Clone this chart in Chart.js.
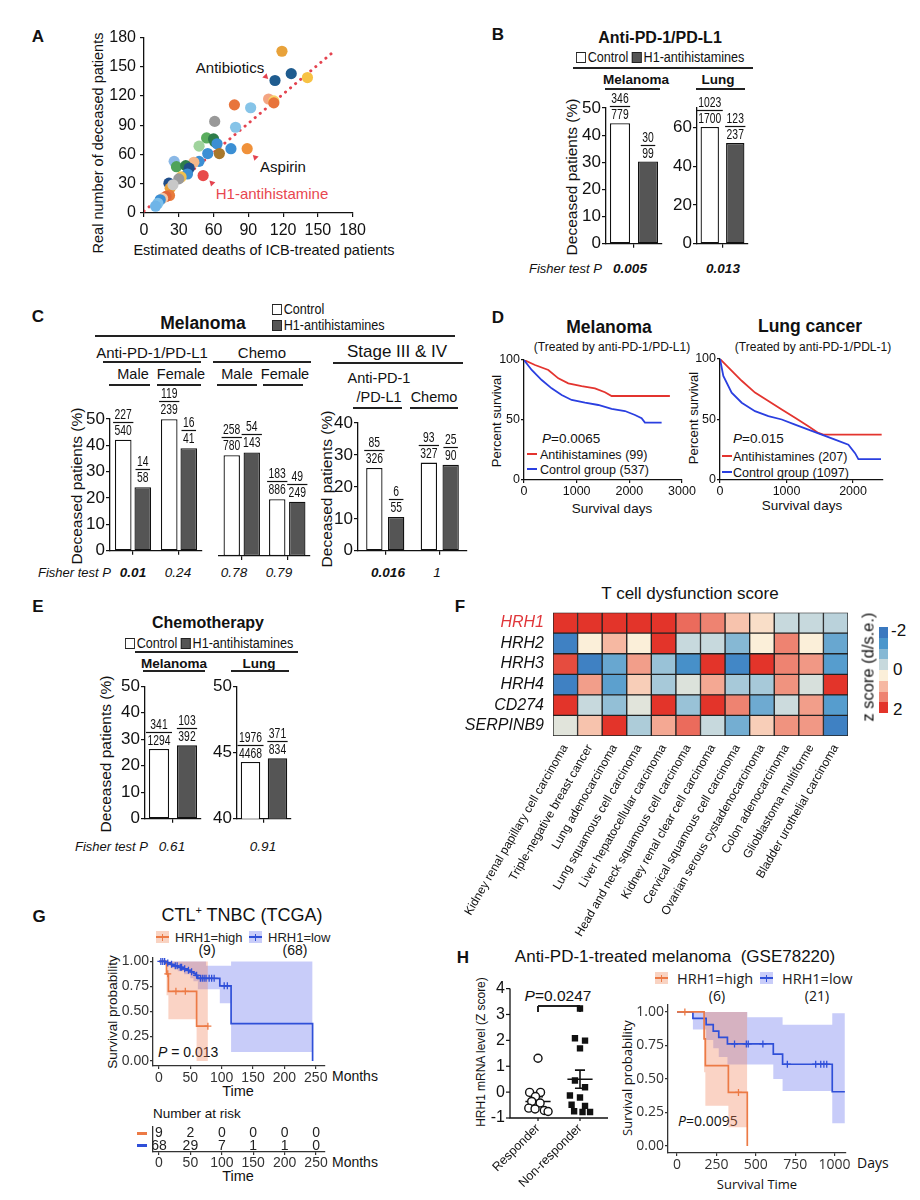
<!DOCTYPE html>
<html><head><meta charset="utf-8">
<script src="https://cdn.jsdelivr.net/npm/chart.js@4.4.1/dist/chart.umd.min.js"></script>
<style>
html,body{margin:0;padding:0;background:#fff}
#fig{position:relative;width:920px;height:1200px;overflow:hidden;font-family:"Liberation Sans",Arial,sans-serif;color:#111}
.t{position:absolute;white-space:nowrap;line-height:1}
.sq{display:inline-block;width:11px;height:11px;border:1.3px solid #222;vertical-align:-1px;margin-right:2px;box-sizing:border-box;background:#fff}
.sq.f{background:#555}
canvas{position:absolute}
</style></head><body><div id="fig"></div>
<script>
// ================= DATA =================
// A: scatter (estimated vs real deaths)
const aX=[119,127,113,141,107.5,112,112,78,92,61,79,54,60,61,63,47.5,75,89,65,55,47.5,43,26,28,36,39,37.5,51,32,30,21.5,22.6,25,22,19,16,14,12,10];
const aY=[166,143,136,139,117,115,113,111,108,94,88,77,76,73,71,68.6,66,66,61,61,53,52,53,47.5,48.6,46,40,38.4,37,35,30.6,25.5,29,18,17,15,13.6,10,7];
const aCol=['#e8a23a','#1f5c8f','#1f5c8f','#f7c244','#f4a582','#f9d36a','#e8743b','#e8743b','#86c4e8','#999999','#86c4e8','#5aad5e','#2e7d4a','#2e7d4a','#3b8fd4','#9fd39c','#3b8fd4','#f0913a','#a8782c','#3b8fd4','#3b8fd4','#f5b78a','#8ab8e6','#4fa35a','#2e7d4a','#1f4e8a','#3b8fd4','#e84a4a','#f2c14e','#9a9a9a','#1f4e8a','#e8a23a','#c8c8c8','#e87a3a','#e0663a','#f5c6a5','#3b8fd4','#7fc0ea','#6fb5e8'];
const aLineX=[0,163], aLineY=[2,165];
const aArrowX=[105,96,58.6], aArrowY=[140,57,30.7], aArrowRot=[135,-45,-45];
// B
const bMelCtrl=[44.4], bMelH1=[30.3], bMelNumC=[346], bMelDenC=[779], bMelNumH=[30], bMelDenH=[99];
const bLungCtrl=[60.2], bLungH1=[51.9], bLungNumC=[1023], bLungDenC=[1700], bLungNumH=[123], bLungDenH=[237];
// C
const cSex=['Male','Female'];
const cPdCtrl=[42.1,49.9], cPdH1=[24.1,38.9], cPdNumC=[227,119], cPdDenC=[540,239], cPdNumH=[14,16], cPdDenH=[58,41];
const cChCtrl=[36.8,20.7], cChH1=[37.8,19.8], cChNumC=[258,183], cChDenC=[780,886], cChNumH=[54,49], cChDenH=[143,249];
const cStCats=['Anti-PD-1/PD-L1','Chemo'];
const cStCtrl=[25.9,27.6], cStH1=[10.6,26.9], cStNumC=[85,93], cStDenC=[326,327], cStNumH=[6,25], cStDenH=[55,90];
// D
const dMelRedT=[0,209,462,652,841,1094,1347,1537,1664,2770], dMelRedS=[100,95.8,91.7,84.7,80.6,78.3,76.4,73.1,70,70];
const dMelBlueT=[0,146,336,525,715,905,1158,1411,1664,1917,2107,2233,2296,2613], dMelBlueS=[100,91.7,83.3,76.4,70.8,66.7,64.4,62.5,59.2,57.5,54.2,51.4,47.8,47.8];
const dLungRedT=[0,125,326,526,727,928,1128,1328,1478,1553,2430], dLungRedS=[100,93,82,72.2,65.3,58.3,51.4,44.4,38.9,37.5,37.5];
const dLungBlueT=[0,50,175,326,526,727,928,1128,1328,1529,1729,1930,2030,2080,2420], dLungBlueS=[100,86,72.2,63.9,56.9,52.8,50,45.8,41.7,37.5,33.3,29.2,22.2,17.2,17.2];
// E
const eMelCtrl=[26.3], eMelH1=[27.7], eMelNumC=[341], eMelDenC=[1294], eMelNumH=[103], eMelDenH=[392];
const eLungCtrl=[44.28], eLungH1=[44.56], eLungNumC=[1976], eLungDenC=[4468], eLungNumH=[371], eLungDenH=[834];
// F heatmap
const fRows=['HRH1','HRH2','HRH3','HRH4','CD274','SERPINB9'];
const fCols=['Kidney renal papillary cell carcinoma','Triple-negative breast cancer','Lung adenocarcinoma','Lung squamous cell carcinoma','Liver hepatocellular carcinoma','Head and neck squamous cell carcinoma','Kidney renal clear cell carcinoma','Cervical squamous cell carcinoma','Ovarian serous cystadenocarcinoma','Colon adenocarcinoma','Glioblastoma multiforme','Bladder urothelial carcinoma'];
const zHRH1=[2,2,2,2,2,1.6,1.43,0.74,0.46,-0.29,-0.29,-0.4];
const zHRH2=[-1.83,0.29,0.86,0.29,2,-0.29,-0.29,-0.86,0.29,1.43,0.29,-1.14];
const zHRH3=[1.83,-1.83,-1.14,1.14,-0.69,-1.54,2,-1.71,2,1.43,1.2,-1.31];
const zHRH4=[-1.83,1.14,-1.26,0.63,-0.57,-0.06,1.03,-0.57,-0.57,1.26,-0.11,2];
const zCD274=[2,-0.29,-0.74,0,2,-0.69,2,1.43,-1.09,-0.23,1.14,-1.31];
const zSERPINB9=[0,0.74,2,-0.51,1.03,1.6,-0.29,-1.03,0.63,1.26,1.2,-1.83];
// G
const gHighT=[0,12,15,60,78], gHighS=[1,0.875,0.70,0.35,0.35];
const gHighCensT=[14,27,42,78], gHighCensS=[0.875,0.70,0.70,0.35];
const gHighBandT=[0,12,15,60,78], gHighHi=[1,1,1,1,1], gHighLo=[1,0.66,0.42,0,0];
const gLowT=[0,10,18,22,30,38,45,50,55,58,62,97,115,245], gLowS=[1,0.985,0.97,0.955,0.94,0.925,0.91,0.895,0.88,0.86,0.83,0.755,0.375,0];
const gLowCensT=[3,6,9,14,20,26,29,34,36,41,47,52,60,66,69,72,75,80,84,88,104,109];
const gLowCensS=[1,1,1,0.985,0.97,0.955,0.955,0.94,0.94,0.925,0.91,0.895,0.86,0.83,0.83,0.83,0.83,0.83,0.83,0.83,0.755,0.755];
const gLowBandT=[0,10,20,30,40,50,55,62,75,97,115,245], gLowHi=[1,1,1,1,1,1,1,1,0.957,0.957,1,1], gLowLo=[1,0.96,0.93,0.90,0.87,0.83,0.80,0.72,0.72,0.58,0.09,0.09];
const gRiskT=[0,50,100,150,200,250], gRiskHigh=[9,2,0,0,0,0], gRiskLow=[68,29,7,1,1,0];
// H
const hGroups=['Responder','Non-responder'];
const hYTicks=[-1,0,1,2,3,4];
const hRespY=[1.31,-0.01,-0.01,-0.17,-0.36,-0.42,-0.62,-0.65,-0.71,-0.75], hRespJit=[0,-0.2,0.06,-0.06,-0.15,0.05,-0.22,-0.07,0.15,0.24];
const hNonY=[3.23,2.08,1.99,1.69,0.45,0.19,-0.13,-0.21,-0.49,-0.53,-0.74,-0.77,-0.77], hNonJit=[0,-0.12,0.12,0,-0.12,0.12,-0.24,0,-0.2,0.12,-0.14,0.06,0.24];
const hMean=[-0.36,0.50], hSem=[0.18,0.35];
const hHighT=[0,172,180,326,446], hHighS=[1,0.8,0.6,0.4,0];
const hHighCensT=[50,390], hHighCensS=[1,0.4];
const hHighBandT=[0,172,180,326,446], hHighHi=[1,1,1,1,1], hHighLo=[1,0.55,0.30,0.14,0.14];
const hLowT=[0,101,185,230,265,320,611,670,985,1065], hLowS=[1,0.952,0.905,0.857,0.81,0.762,0.685,0.61,0.405,0.405];
const hLowCensT=[365,440,452,545,700,880,912,932,950], hLowCensS=[0.762,0.762,0.762,0.762,0.61,0.61,0.61,0.61,0.61];
const hLowBandT=[0,101,185,230,265,320,446,611,670,985,1065], hLowHi=[1,1,1,1,1,1,0.96,0.96,0.905,0.99,0.99], hLowLo=[1,0.87,0.79,0.73,0.665,0.608,0.608,0.5,0.41,0.17,0.17];

// ================= HELPERS =================
const F='"Liberation Sans", Arial, sans-serif';
Chart.defaults.font.family=F; Chart.defaults.color='#111';
const fig=document.getElementById('fig');
function T(x,y,html,css,anchor,rot,sx){
  const d=document.createElement('div');d.className='t';d.innerHTML=html;
  d.style.cssText+=`left:${x}px;top:${y}px;`+(css||'');
  const a=anchor||'c', ax={c:'-50%',l:'0',r:'-100%'}[a];
  d.style.transformOrigin={c:'center',l:'0% 50%',r:'100% 50%'}[a];
  d.style.transform=`translate(${ax},-50%)`+(rot?` rotate(${rot}deg)`:'')+(sx?` scaleX(${sx})`:'');
  fig.appendChild(d);return d;
}
function box(x,y,w,h,bg){const d=document.createElement('div');d.style.cssText=`position:absolute;left:${x}px;top:${y}px;width:${w}px;height:${h}px;background:${bg}`;fig.appendChild(d);return d;}
function HL(x1,x2,y,w){w=w||1.5;box(x1,y-w/2,x2-x1,w,'#222');}
function VL(x,y1,y2,w){w=w||1.5;box(x-w/2,y1,w,y2-y1,'#222');}
function sw(x,y,bg,lc){const d=box(x,y-6,13,12,bg);d.innerHTML=`<div style="position:absolute;left:0;top:5.25px;width:13px;height:1.5px;background:${lc}"></div><div style="position:absolute;left:5.75px;top:2.5px;width:1.5px;height:7px;background:${lc}"></div>`;}
function merge(a,b){for(const k in b){const v=b[k];if(v&&typeof v==='object'&&!Array.isArray(v)){a[k]=merge(a[k]&&typeof a[k]==='object'?a[k]:{},v);}else a[k]=v;}return a;}
function ax(o){return merge({display:true,ticks:{display:true,padding:2,color:'#111',font:{size:16}},grid:{display:true,drawOnChartArea:false,drawTicks:true,tickLength:4,color:'#111',lineWidth:1.2},border:{display:true,color:'#111',width:1.3}},o);}
function mk(bx,area,cfg,z){
  const [x,y,w,h]=bx,[L,Tp,R,B]=area;
  const c=document.createElement('canvas');c.width=w;c.height=h;
  c.style.cssText=`left:${x}px;top:${y}px;width:${w}px;height:${h}px;`+(z?`z-index:${z};`:'');
  fig.appendChild(c);
  const o=cfg.options=cfg.options||{};
  o.responsive=false;o.animation=false;o.devicePixelRatio=1;
  o.layout={padding:{top:Tp-y,right:x+w-R,left:0,bottom:0}};
  o.plugins=Object.assign({legend:{display:false},tooltip:{enabled:false},title:{display:false}},o.plugins||{});
  const sx=o.scales.x,sy=o.scales.y;
  if(sy.display===false)o.layout.padding.left=L-x;else sy.afterFit=s=>{s.width=L-x;};
  if(sx.display===false)o.layout.padding.bottom=y+h-B;else sx.afterFit=s=>{s.height=y+h-B;};
  return new Chart(c,cfg);
}
function fracPlugin(nums,dens,gap){return{id:'frac',afterDatasetsDraw(chart){
  const ctx=chart.ctx;ctx.save();ctx.font='14px '+F;ctx.fillStyle='#111';ctx.strokeStyle='#111';ctx.lineWidth=1.2;ctx.textAlign='center';ctx.textBaseline='middle';
  nums.forEach((arr,di)=>chart.getDatasetMeta(di).data.forEach((b,i)=>{
    const n=String(arr[i]),d=String(dens[di][i]);const ly=Math.round(b.y-gap)+0.5;
    const half=Math.max(ctx.measureText(n).width,ctx.measureText(d).width)*0.74/2+1.5;
    ctx.beginPath();ctx.moveTo(b.x-half,ly);ctx.lineTo(b.x+half,ly);ctx.stroke();
    [[n,ly-7.5],[d,ly+8.5]].forEach(([s,yy])=>{ctx.save();ctx.translate(b.x,yy);ctx.scale(0.74,1);ctx.fillText(s,0,0);ctx.restore();});
  }));ctx.restore();}};}
function bars(bx,area,cats,ctrl,h1,numC,denC,numH,denH,ymin,ymax,step,o){
  o=o||{};
  const ds=(d,bg)=>({data:d,backgroundColor:bg,borderColor:'#111',borderWidth:1.3,borderSkipped:false,barPercentage:o.bp||0.72,categoryPercentage:o.cp||1});
  return mk(bx,area,{type:'bar',data:{labels:cats,datasets:[ds(ctrl,'#fff'),ds(h1,'#555')]},
    plugins:[fracPlugin([numC,numH],[denC,denH],o.gap||17)],
    options:{scales:{x:ax({type:'category',offset:true,grid:{offset:false},ticks:{display:false}}),
      y:ax({type:'linear',display:o.noY?false:true,min:ymin,max:ymax,ticks:{stepSize:step,font:{size:17},padding:1}})}}});
}
const pts=(xs,ys)=>xs.map((x,i)=>({x,y:ys[i]}));
const fixT=arr=>s=>{s.ticks=arr.map(v=>({value:v}));};

// ================= A =================
T(38,37,'A','font:bold 17px '+F);
T(98,143,'Real number of deceased patients','font:14.5px '+F,'c',-90);
T(264,250,'Estimated deaths of ICB-treated patients','font:14.5px '+F);
T(230,67,'Antibiotics','font:15px '+F);
T(283,166,'Aspirin','font:15px '+F);
T(272,193,'H1-antihistamine','font:15px '+F+';color:#e8474f');
mk([58,24,312,244],[144,37,356,213],{type:'scatter',data:{datasets:[
  {type:'line',showLine:true,data:pts(aLineX,aLineY),borderColor:'#e4434f',borderWidth:3,borderDash:[0.1,6.5],borderCapStyle:'round',pointRadius:0,order:2},
  {data:pts(aX,aY),backgroundColor:aCol,borderWidth:0,pointRadius:5.6,order:1},
  {data:pts(aArrowX,aArrowY),pointStyle:'triangle',rotation:aArrowRot,backgroundColor:'#e4434f',borderWidth:0,pointRadius:3.5,order:0}
]},options:{scales:{
  x:ax({type:'linear',min:0,max:180,ticks:{stepSize:30,padding:4}}),
  y:ax({type:'linear',min:0,max:180,ticks:{stepSize:30,padding:4}})}}});

// ================= B =================
T(498,35,'B','font:bold 17px '+F);
T(660,38,'Anti-PD-1/PD-L1','font:bold 16px '+F);
T(576,57,'<span class="sq"></span>Control <span class="sq f"></span>H1-antihistamines','font:14px '+F,'l',0,0.9);
HL(573,753,68);
T(636,79,'Melanoma','font:bold 13.5px '+F);HL(605,660,89);
T(718,79,'Lung','font:bold 13.5px '+F);HL(696,745,89);
T(572,177,'Deceased patients (%)','font:15.5px '+F,'c',-90);
T(602,268,'Fisher test P','font:italic 13px '+F,'r');
T(630,268,'0.005','font:italic bold 13.5px '+F);
T(723,268,'0.013','font:italic bold 13.5px '+F);
bars([555,88,113,167],[606,108,662,249],['Melanoma'],bMelCtrl,bMelH1,bMelNumC,bMelDenC,bMelNumH,bMelDenH,0,50,10);
bars([665,88,90,167],[697,108,748,249],['Lung'],bLungCtrl,bLungH1,bLungNumC,bLungDenC,bLungNumH,bLungDenH,0,70,10);

// ================= C =================
T(38,317,'C','font:bold 17px '+F);
T(203,323,'Melanoma','font:bold 17.5px '+F);
T(272,309,'<span class="sq"></span>Control','font:14px '+F,'l',0,0.9);
T(272,325,'<span class="sq f"></span>H1-antihistamines','font:14px '+F,'l',0,0.9);
HL(95,455,336);
T(152,352,'Anti-PD-1/PD-L1','font:15px '+F);HL(103,201,362);
T(262,352,'Chemo','font:15px '+F);HL(213,311,362);
T(397,352,'Stage III &amp; IV','font:17px '+F);HL(333,463,363);
T(133,374,'Male','font:14.5px '+F);HL(109,150,385);
T(181,374,'Female','font:14.5px '+F);HL(157,201,385);
T(237,374,'Male','font:14.5px '+F);HL(217,257,385);
T(285,374,'Female','font:14.5px '+F);HL(263,303,385);
T(379,378,'Anti-PD-1','font:14.5px '+F);T(379,397,'/PD-L1','font:14.5px '+F);HL(353,402,408);
T(434,397,'Chemo','font:14.5px '+F);HL(410,458,408);
T(77,486,'Deceased patients (%)','font:15.5px '+F,'c',-90);
T(327,489,'Deceased patients (%)','font:15.5px '+F,'c',-90);
T(111,572,'Fisher test P','font:italic 13px '+F,'r');
T(133,572,'0.01','font:italic bold 13.5px '+F);
T(178,572,'0.24','font:italic 13.5px '+F);
T(234,572,'0.78','font:italic 13.5px '+F);
T(279,572,'0.79','font:italic 13.5px '+F);
T(388,572,'0.016','font:italic bold 13.5px '+F);
T(437,572,'1','font:italic 13.5px '+F);
bars([82,378,128,184],[110,419,202,556],cSex,cPdCtrl,cPdH1,cPdNumC,cPdDenC,cPdNumH,cPdDenH,0,50,10,{cp:0.85,bp:0.85,gap:18});
bars([212,400,102,162],[219,419,310,556],cSex,cChCtrl,cChH1,cChNumC,cChDenC,cChNumH,cChDenH,0,50,10,{cp:0.88,bp:0.82,gap:18,noY:true});
bars([330,400,142,162],[358,423,467,556],cStCats,cStCtrl,cStH1,cStNumC,cStDenC,cStNumH,cStDenH,0,40,10,{cp:0.8,bp:0.75,gap:18});

// ================= D =================
T(498,318,'D','font:bold 17px '+F);
T(609,327,'Melanoma','font:bold 17.5px '+F);
T(612,347,'(Treated by anti-PD-1/PD-L1)','font:12px '+F);
T(810,326,'Lung cancer','font:bold 17.5px '+F);
T(813,347,'(Treated by anti-PD-1/PDL-1)','font:12px '+F);
T(496,421,'Percent survival','font:13px '+F,'c',-90);
T(693,418,'Percent survival','font:13px '+F,'c',-90);
T(612,508,'Survival days','font:13.5px '+F);
T(802,505,'Survival days','font:13.5px '+F);
T(542,438,'<i>P</i>=0.0065','font:13.5px '+F,'l');
T(733,438,'<i>P</i>=0.015','font:13.5px '+F,'l');
box(527,453.3,10,1.5,'#e3342f');T(540,454,'Antihistamines (99)','font:13.5px '+F,'l',0,0.93);
box(527,468.3,10,1.5,'#2a3fe0');T(540,469,'Control group (537)','font:13.5px '+F,'l',0,0.93);
box(722,455,10,1.5,'#e3342f');T(733,456,'Antihistamines (207)','font:13.5px '+F,'l',0,0.93);
box(722,471,10,1.5,'#2a3fe0');T(733,472,'Control group (1097)','font:13.5px '+F,'l',0,0.93);
function dChart(bx,area,xmax,xt,rt,rs,bt,bs){
  return mk(bx,area,{type:'line',data:{datasets:[
    {data:pts(bt,bs),borderColor:'#2a3fe0',borderWidth:1.8,pointRadius:0,tension:0},
    {data:pts(rt,rs),borderColor:'#e3342f',borderWidth:1.8,pointRadius:0,tension:0}]},
    options:{scales:{x:ax({type:'linear',min:0,max:xmax,afterBuildTicks:fixT(xt),ticks:{font:{size:12.5},padding:1,callback:v=>String(v)},grid:{tickLength:3}}),
      y:ax({type:'linear',min:0,max:100,afterBuildTicks:fixT([0,50,100]),ticks:{font:{size:12.5},padding:1},grid:{tickLength:3}})}}});
}
dChart([498,350,200,160],[524,360,682,480],3000,[0,1000,2000,3000],dMelRedT,dMelRedS,dMelBlueT,dMelBlueS);
dChart([694,350,206,160],[720,359,883,480],2450,[0,1000,2000],dLungRedT,dLungRedS,dLungBlueT,dLungBlueS);

// ================= E =================
T(38,607,'E','font:bold 17px '+F);
T(208,623,'Chemotherapy','font:bold 16px '+F);
T(125,643,'<span class="sq"></span>Control <span class="sq f"></span>H1-antihistamines','font:14px '+F,'l',0,0.9);
HL(135,298,652);
T(174,663,'Melanoma','font:bold 13.5px '+F);HL(143,205,671);
T(259,663,'Lung','font:bold 13.5px '+F);HL(231,289,671);
T(106,754,'Deceased patients (%)','font:15.5px '+F,'c',-90);
T(148,846,'Fisher test P','font:italic 13px '+F,'r');
T(172,846,'0.61','font:italic 13.5px '+F);
T(263,846,'0.91','font:italic 13.5px '+F);
bars([112,675,92,155],[145,686,201,823],['Melanoma'],eMelCtrl,eMelH1,eMelNumC,eMelDenC,eMelNumH,eMelDenH,0,50,10);
bars([204,675,91,155],[237,685,291,823],['Lung'],eLungCtrl,eLungH1,eLungNumC,eLungDenC,eLungNumH,eLungDenH,40,50,5);

// ================= F =================
T(460,607,'F','font:bold 17px '+F);
T(690,594,'T cell dysfunction score','font:17px '+F);
const hmPal=['#3a78bf','#4a96cc','#86b8d4','#c7d9dd','#fbefd9','#f6b8a2','#ee8371','#e3342a'];
function hx(c){return [1,3,5].map(i=>parseInt(c.substr(i,2),16));}
function hmColor(z){const p=Math.max(0,Math.min(7,(z+2)/4*7));const i=Math.min(6,Math.floor(p)),f=p-i;const a=hx(hmPal[i]),b=hx(hmPal[i+1]);return 'rgb('+a.map((v,k)=>Math.round(v+(b[k]-v)*f)).join(',')+')';}
const fZ=[zHRH1,zHRH2,zHRH3,zHRH4,zCD274,zSERPINB9];
mk([420,598,440,342],[553,605,848,736],{type:'bar',data:{labels:fCols,datasets:fZ.map((r,i)=>({label:fRows[i],data:r.map(()=>1),backgroundColor:r.map(hmColor),borderColor:'#222',borderWidth:1,borderSkipped:false,barPercentage:1,categoryPercentage:1})).reverse()},
  options:{scales:{
    x:ax({type:'category',stacked:true,offset:true,grid:{display:false},border:{display:false},ticks:{autoSkip:false,minRotation:60,maxRotation:60,font:{size:12},padding:2}}),
    y:ax({type:'linear',stacked:true,min:0,max:6,grid:{display:false},border:{display:false},afterBuildTicks:fixT([5.5,4.5,3.5,2.5,1.5,0.5]),
      ticks:{autoSkip:false,padding:5,font:{size:16,style:'italic'},callback:v=>fRows[Math.round(5.5-v)],color:c=>(c.tick&&c.tick.value===5.5)?'#e0363a':'#111'}})}}});
hmPal.forEach((c,i)=>box(879,627+i*10.75,9,10.9,c));
T(891,631,'-2','font:17px '+F,'l');T(893,670,'0','font:17px '+F,'l');T(893,710,'2','font:17px '+F,'l');
T(868,667,'z score (d/s.e.)','font:16.5px '+F,'c',-90);

// ================= G =================
const ORL='#ec7a45', ORB='rgba(240,130,90,0.35)', BLL='#2f4fd8', BLB='rgba(110,120,238,0.38)';
T(39,917,'G','font:bold 17px '+F);
T(242,915,'CTL<span style="font-size:11px;position:relative;top:-7px">+</span> TNBC (TCGA)','font:18px '+F);
sw(156,937,'#f9d3c2',ORL);T(175,937,'HRH1=high','font:13px '+F+';color:#222','l');
sw(249,937,'#c9cdf9',BLL);T(268,937,'HRH1=low','font:13px '+F+';color:#222','l');
T(207,950,'(9)','font:14px '+F);T(295,950,'(68)','font:14px '+F);
T(112,1012,'Survival probability','font:13.5px '+F,'c',-90);
T(158,1052,'<i>P</i> = 0.013','font:14px '+F,'l');
T(332,1076,'Months','font:14px '+F,'l');T(238,1091,'Time','font:14.5px '+F);
T(153,1113,'Number at risk','font:13.5px '+F,'l');
box(137,1131.5,10,3,ORL);box(137,1143.5,10,3,BLL);
T(332,1162,'Months','font:14px '+F,'l');T(238,1176,'Time','font:14.5px '+F);
function km(bx,area,xmin,xmax,xt,ymin,ymax,curves,fs,fam){
  const ds=[];
  curves.forEach(c=>{
    ds.push({data:pts(c.bt,c.bhi),stepped:true,borderWidth:0,pointRadius:0,fill:false,order:3});
    ds.push({data:pts(c.bt,c.blo),stepped:true,borderWidth:0,pointRadius:0,fill:'-1',backgroundColor:c.band,order:3});
  });
  curves.forEach(c=>{
    ds.push({data:pts(c.t,c.s),stepped:true,borderColor:c.col,borderWidth:1.7,pointRadius:0,fill:false,order:1});
    ds.push({data:pts(c.ct,c.cs),showLine:false,pointStyle:'cross',pointRadius:3.5,borderColor:c.col,borderWidth:1.3,order:0});
  });
  const tk={font:{size:fs,family:fam},color:'#333',padding:1};
  return mk(bx,area,{type:'line',data:{datasets:ds},options:{plugins:{filler:{propagate:false}},scales:{
    x:ax({type:'linear',min:xmin,max:xmax,afterBuildTicks:fixT(xt),ticks:Object.assign({callback:v=>String(v)},tk),grid:{tickLength:3,color:'#333'},border:{color:'#333'}}),
    y:ax({type:'linear',min:ymin,max:ymax,afterBuildTicks:fixT([0,0.25,0.5,0.75,1]),ticks:Object.assign({callback:v=>v.toFixed(2)},tk),grid:{tickLength:3,color:'#333'},border:{color:'#333'}})}}});
}
km([95,948,235,137],[153,957,325,1066],-9.55,264.3,[0,50,100,150,200,250],-0.05,1.04,[
  {t:gHighT,s:gHighS,ct:gHighCensT,cs:gHighCensS,bt:gHighBandT,bhi:gHighHi,blo:gHighLo,col:ORL,band:ORB},
  {t:gLowT,s:gLowS,ct:gLowCensT,cs:gLowCensS,bt:gLowBandT,bhi:gLowHi,blo:gLowLo,col:BLL,band:BLB}],14,F);
mk([95,1122,235,52],[153,1127,325,1152],{type:'scatter',data:{datasets:[]},
  plugins:[{id:'risk',afterDatasetsDraw(ch){const ctx=ch.ctx;ctx.save();ctx.font='14px '+F;ctx.fillStyle='#222';ctx.textAlign='center';ctx.textBaseline='middle';
    [[gRiskHigh,1.5],[gRiskLow,0.5]].forEach(([row,yv])=>row.forEach((v,i)=>ctx.fillText(String(v),ch.scales.x.getPixelForValue(gRiskT[i]),ch.scales.y.getPixelForValue(yv))));ctx.restore();}}],
  options:{scales:{x:ax({type:'linear',min:-9.55,max:264.3,afterBuildTicks:fixT(gRiskT),ticks:{font:{size:14},color:'#333',padding:0},grid:{tickLength:3,color:'#333'},border:{color:'#333'}}),
    y:ax({type:'linear',min:0,max:2,ticks:{display:false},grid:{display:false},border:{color:'#333'}})}}});

// ================= H (KM) =================
const OS='"Open Sans", '+F;
T(463,958,'H','font:bold 17px '+F);
T(675,957,'Anti-PD-1-treated melanoma&nbsp; (GSE78220)','font:17px '+F);
sw(655,978,'#f9d3c2',ORL);T(677,978,'HRH1=high','font:14.5px '+OS+';color:#222','l');
sw(760,978,'#c9cdf9',BLL);T(782,978,'HRH1=low','font:14.5px '+OS+';color:#222','l');
T(717,995,'(6)','font:14px '+OS);T(817,995,'(21)','font:14px '+OS);
T(627,1078,'Survival probability','font:13px '+OS,'c',-90);
T(678,1120,'<i>P</i>=0.0095','font:14px '+OS,'l');
T(857,1162,'Days','font:14px '+OS,'l');T(757,1184,'Survival Time','font:13px '+OS);
km([612,995,240,182],[668,1005,846,1153],-57,1070,[0,250,500,750,1000],-0.052,1.052,[
  {t:hHighT,s:hHighS,ct:hHighCensT,cs:hHighCensS,bt:hHighBandT,bhi:hHighHi,blo:hHighLo,col:ORL,band:ORB},
  {t:hLowT,s:hLowS,ct:hLowCensT,cs:hLowCensS,bt:hLowBandT,bhi:hLowHi,blo:hLowLo,col:BLL,band:BLB}],14,OS);

// ================= H (scatter) =================
T(558,996,'<i>P</i>=0.0247','font:15.5px '+F);
HL(538,580,1006,1.4);VL(538,1006,1012,1.4);VL(580,1006,1012,1.4);
T(480,1052,'HRH1 mRNA level (Z score)','font:13px '+F,'c',-90,0.92);
const msDs=[];
hMean.forEach((m,g)=>{const c=g+1,s=hSem[g];
  [[[c-0.3,m],[c+0.3,m]],[[c,m-s],[c,m+s]],[[c-0.12,m+s],[c+0.12,m+s]],[[c-0.12,m-s],[c+0.12,m-s]]].forEach(seg=>
    msDs.push({type:'line',showLine:true,data:seg.map(p=>({x:p[0],y:p[1]})),borderColor:'#111',borderWidth:1.6,pointRadius:0}));});
// axis lines, tick marks and y tick labels drawn from the chart's own scales
const hAxes={id:'hAxes',afterDatasetsDraw(ch){
  const ctx=ch.ctx,a=ch.chartArea,xs=ch.scales.x,ys=ch.scales.y;
  ctx.save();ctx.strokeStyle='#111';ctx.fillStyle='#111';ctx.lineWidth=1.3;
  ctx.beginPath();ctx.moveTo(a.left,a.top);ctx.lineTo(a.left,a.bottom);ctx.lineTo(a.right,a.bottom);ctx.stroke();
  ctx.lineWidth=1.2;ctx.font='16px '+F;ctx.textAlign='right';ctx.textBaseline='middle';
  hYTicks.forEach(v=>{const py=ys.getPixelForValue(v);ctx.beginPath();ctx.moveTo(a.left-4,py);ctx.lineTo(a.left,py);ctx.stroke();ctx.fillText(String(v),a.left-5,py);});
  [1,2].forEach(v=>{const px=xs.getPixelForValue(v);ctx.beginPath();ctx.moveTo(px,a.bottom);ctx.lineTo(px,a.bottom+3);ctx.stroke();});
  ctx.restore();}};
const TR='rgba(0,0,0,0)';
mk([470,978,145,221],[510,988,608,1118],{type:'scatter',data:{datasets:[
  {data:hRespY.map((y,i)=>({x:1+hRespJit[i],y})),pointStyle:'circle',pointRadius:4,backgroundColor:'#fff',borderColor:'#111',borderWidth:1.4},
  {data:hNonY.map((y,i)=>({x:2+hNonJit[i],y})),pointStyle:'rect',pointRadius:4.5,backgroundColor:'#111',borderColor:'#111',borderWidth:0}
].concat(msDs)},plugins:[hAxes],options:{scales:{
  x:ax({type:'linear',position:'bottom',min:0.333,max:2.667,afterBuildTicks:fixT([1,2]),ticks:{callback:v=>hGroups[Math.round(v)-1],minRotation:45,maxRotation:45,font:{size:12.5},padding:0},grid:{tickLength:3,color:TR},border:{color:TR}}),
  y:ax({type:'linear',position:'left',min:-1,max:4,afterBuildTicks:fixT(hYTicks),ticks:{font:{size:16},padding:1,color:TR,callback:v=>String(v)},grid:{color:TR},border:{color:TR}})}}},5);
</script></body></html>
